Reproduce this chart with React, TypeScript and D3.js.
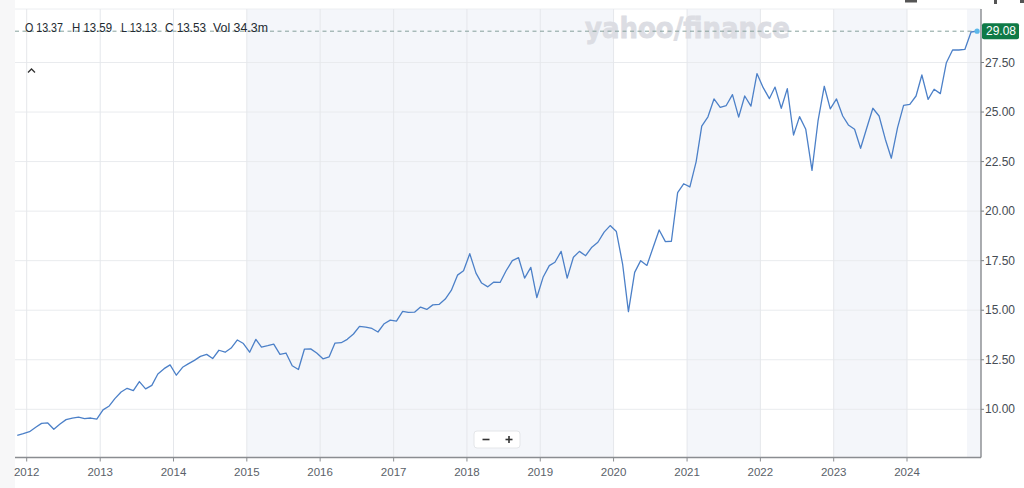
import React from "react";
import * as d3 from "d3";

// ---- Data (monthly closes, Nov 2011 – Dec 2024) ----
const startYear = 2011;
const startMonth = 10; // November (0-based)
const closes: number[] = [
  8.69, 8.77,
  8.87, 9.09, 9.29, 9.31, 8.99, 9.26, 9.48, 9.56, 9.6, 9.53, 9.56, 9.5,
  9.97, 10.17, 10.54, 10.87, 11.06, 10.94, 11.4, 11.03, 11.21, 11.78, 12.05, 12.24,
  11.72, 12.12, 12.29, 12.47, 12.67, 12.77, 12.56, 12.98, 12.88, 13.09, 13.5, 13.32,
  12.88, 13.53, 13.14, 13.21, 13.29, 12.77, 12.84, 12.2, 12.01, 13.04, 13.05, 12.84,
  12.55, 12.65, 13.34, 13.36, 13.53, 13.8, 14.18, 14.15, 14.08, 13.9, 14.32, 14.5,
  14.45, 14.94, 14.89, 14.9, 15.16, 15.04, 15.27, 15.29, 15.56, 16.0, 16.77, 16.99,
  17.85, 16.87, 16.37, 16.18, 16.42, 16.4, 16.99, 17.5, 17.65, 16.62, 17.16, 15.64,
  16.66, 17.25, 17.42, 17.97, 16.62, 17.67, 17.97, 17.75, 18.18, 18.43, 18.94, 19.27,
  18.97, 17.33, 14.93, 16.91, 17.5, 17.26, 18.14, 19.05, 18.46, 18.48, 20.93, 21.38,
  21.22, 22.49, 24.29, 24.76, 25.66, 25.24, 25.33, 25.88, 24.74, 25.81, 25.3, 26.94,
  26.23, 25.68, 26.26, 25.19, 26.18, 23.84, 24.77, 24.13, 22.06, 24.55, 26.3,
  25.16, 25.66, 24.8, 24.35, 24.13, 23.17, 24.21, 25.19, 24.8, 23.63, 22.67, 24.21,
  25.34, 25.39, 25.81, 26.87, 25.64, 26.15, 25.93, 27.49, 28.13, 28.13, 28.16, 29.04,
  29.08,
];
const yearTicks = [2012, 2013, 2014, 2015, 2016, 2017, 2018, 2019, 2020, 2021, 2022, 2023, 2024];
const priceTicks = [10, 12.5, 15, 17.5, 20, 22.5, 25, 27.5];
const shadedBands: [number, number, number, number][] = [
  // [fromYear, fromMonth, toYear, toMonth]
  [2015, 0, 2020, 0],
  [2021, 0, 2022, 0],
  [2023, 0, 2024, 0],
  [2024, 9.85, 2025, 0],
];
const headerItems = [
  { label: "O", value: "13.37" },
  { label: "H", value: "13.59" },
  { label: "L", value: "13.13" },
  { label: "C", value: "13.53" },
  { label: "Vol", value: "34.3m" },
];
const lastPrice = 29.08;

// ---- Layout ----
const W = 1024;
const H = 488;
const plotLeft = 15;
const plotRight = 981;
const plotTop = 9;
const axisY = 457.5;
const FONT = "'Liberation Sans', Arial, sans-serif";

export default function App() {
  const x = d3
    .scaleTime()
    .domain([new Date(2012, 0, 1), new Date(2024, 0, 1)])
    .range([26.7, 907]);
  const y = d3.scaleLinear().domain([10, 27.5]).range([409.3, 62.5]);

  const points = closes.map((v, i) => ({
    date: new Date(startYear, startMonth + i, 15),
    value: v,
  }));

  const line = d3
    .line<{ date: Date; value: number }>()
    .x((d) => x(d.date))
    .y((d) => y(d.value));

  const last = points[points.length - 1];
  const yLast = y(lastPrice);

  const headerX = [25, 72, 121, 165, 213];
  const headerW = [38, 40, 36, 41, 55];

  return (
    <svg
      width={W}
      height={H}
      style={{ position: "absolute", left: 0, top: 0, display: "block", background: "#fff" }}
      fontFamily={FONT}
    >
      <rect x={0} y={0} width={plotLeft} height={H} fill="#f7f7f8" />
      {/* shaded bands */}
      {shadedBands.map(([y0, m0, y1, m1], i) => {
        const a = x(new Date(y0, 0, 1 + m0 * 30.4));
        const b = Math.min(plotRight, x(new Date(y1, m1, 1)));
        return (
          <rect key={i} x={a} y={plotTop} width={b - a} height={axisY - plotTop} fill="#f4f6fa" />
        );
      })}
      {/* top border */}
      <line x1={plotLeft} x2={plotRight} y1={plotTop} y2={plotTop} stroke="#eceef1" />
      {/* horizontal grid */}
      {priceTicks.map((t) => (
        <line key={t} x1={plotLeft} x2={plotRight} y1={y(t)} y2={y(t)} stroke="#e9ebee" strokeWidth={1} />
      ))}
      {/* vertical grid */}
      {yearTicks.map((yr) => (
        <line
          key={yr}
          x1={x(new Date(yr, 0, 1))}
          x2={x(new Date(yr, 0, 1))}
          y1={plotTop}
          y2={axisY}
          stroke="#e5e7eb"
          strokeWidth={1}
        />
      ))}

      {/* watermark */}
      <text
        x={585}
        y={38}
        fontSize={29}
        fontWeight={700}
        fill="#dcdde3"
        stroke="#dcdde3"
        strokeWidth={0.8}
        textLength={205}
        lengthAdjust="spacingAndGlyphs"
        fontFamily="'DejaVu Sans', sans-serif"
      >
        yahoo/finance
      </text>

      {/* last price dashed line */}
      <line
        x1={plotLeft}
        x2={plotRight}
        y1={yLast}
        y2={yLast}
        stroke="#86a09c"
        strokeWidth={1}
        strokeDasharray="4,3.5"
      />

      {/* header */}
      {headerItems.map((h, i) => (
        <text
          key={h.label}
          x={headerX[i]}
          y={32}
          fontSize={12}
          fill="#232a31"
          textLength={headerW[i]}
          lengthAdjust="spacingAndGlyphs"
        >
          {h.label} {h.value}
        </text>
      ))}
      {/* chevron */}
      <path d="M28,72.5 L31.5,69 L35,72.5" fill="none" stroke="#333" strokeWidth={1.3} />

      {/* price line */}
      <path d={line(points) || ""} fill="none" stroke="#4c80c8" strokeWidth={1.3} strokeLinejoin="round" />
      <circle cx={x(last.date)} cy={y(last.value)} r={2.6} fill="#5cb8ea" />

      {/* x axis */}
      <line x1={plotLeft} x2={plotRight} y1={axisY} y2={axisY} stroke="#8a8d91" strokeWidth={1.3} />
      {yearTicks.map((yr) => {
        const xx = x(new Date(yr, 0, 1));
        return (
          <g key={yr}>
            <line x1={xx} x2={xx} y1={axisY} y2={axisY + 4} stroke="#8a8d91" strokeWidth={1} />
            <text x={xx} y={476} fontSize={11.5} fill="#5a6169" textAnchor="middle">
              {yr}
            </text>
          </g>
        );
      })}

      {/* y axis */}
      <line x1={plotRight} x2={plotRight} y1={plotTop} y2={axisY} stroke="#7d8085" strokeWidth={1.3} />
      {priceTicks.map((t) => (
        <g key={t}>
          <line x1={plotRight} x2={plotRight + 3} y1={y(t)} y2={y(t)} stroke="#7d8085" />
          <text x={985} y={y(t) + 4} fontSize={12} fill="#464c54">
            {t.toFixed(2)}
          </text>
        </g>
      ))}

      {/* last price label */}
      <rect x={982} y={yLast - 8} width={37} height={16} rx={2} fill="#0f7a47" />
      <text x={986} y={yLast + 4.2} fontSize={12} fill="#ffffff">
        {lastPrice.toFixed(2)}
      </text>

      {/* zoom buttons */}
      <g>
        <rect x={474} y={431} width={46} height={17} rx={3} fill="#fff" stroke="#e4e6e9" />
        <line x1={482.5} x2={489.5} y1={439.5} y2={439.5} stroke="#333" strokeWidth={1.6} />
        <line x1={505.5} x2={512.5} y1={439.5} y2={439.5} stroke="#333" strokeWidth={1.6} />
        <line x1={509} x2={509} y1={436} y2={443} stroke="#333" strokeWidth={1.6} />
      </g>

      {/* cut-off toolbar icons at top */}
      <rect x={905} y={0} width={12} height={2.5} fill="#555" />
      <rect x={994} y={0} width={3} height={4} fill="#555" />
      <rect x={1020} y={0} width={4} height={3} fill="#555" />
    </svg>
  );
}
